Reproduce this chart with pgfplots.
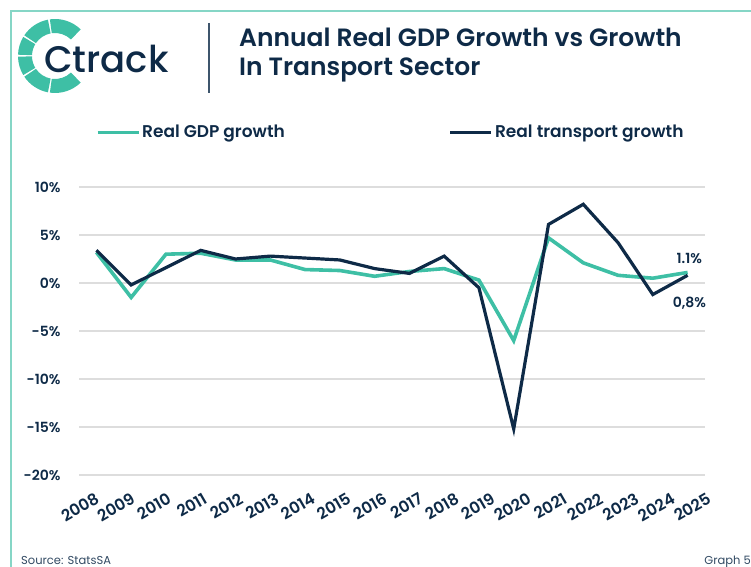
\documentclass[border=0pt]{standalone}
\usepackage{pgfplots}
\pgfplotsset{compat=1.18}
\usepackage{fontspec}
\setmainfont{Poppins}
\IfFontExistsTF{Poppins SemiBold}{\newfontfamily\psemi{Poppins SemiBold}}{\newcommand\psemi{\bfseries}}
\IfFontExistsTF{Poppins Medium}{\newfontfamily\pmed{Poppins Medium}}{\newcommand\pmed{}}

\definecolor{tealc}{HTML}{3EBFA5}
\definecolor{navy}{HTML}{0E2A47}
\definecolor{gridc}{HTML}{DDDDDD}
\definecolor{framec}{HTML}{86D6C6}

% year, real GDP growth, real transport growth (%)
\pgfplotstableread{
year gdp transport
2008  3.2   3.4
2009 -1.5  -0.2
2010  3.0   1.6
2011  3.1   3.4
2012  2.4   2.5
2013  2.4   2.8
2014  1.4   2.6
2015  1.3   2.4
2016  0.7   1.5
2017  1.2   1.0
2018  1.5   2.8
2019  0.3  -0.5
2020 -6.0 -15.2
2021  4.7   6.1
2022  2.1   8.2
2023  0.8   4.2
2024  0.5  -1.2
2025  1.1   0.8
}\growth

\begin{document}
\begin{tikzpicture}
\path[use as bounding box] (0,0) rectangle (751bp,567bp);
% frame
\draw[framec, line width=1.6bp] (11bp,0bp) -- (11bp,556bp) -- (751bp,556bp);

% logo
\foreach \a/\b in {46/98,101/146,149/178,181/211,214/259,262/314}{
  \fill[tealc] ([shift={(\a:37bp)}]55bp,511bp) arc[start angle=\a,end angle=\b,radius=37bp]
    -- ([shift={(\b:23bp)}]55bp,511bp) arc[start angle=\b,end angle=\a,radius=23bp] -- cycle;
}
\node[anchor=base west, inner sep=0pt, text=navy, font=\pmed\fontsize{37bp}{37bp}\selectfont] at (44bp,494bp) {Ctrack};
\draw[navy!80, line width=1.1bp] (209bp,544bp) -- (209bp,474bp);

% title
\node[anchor=base west, inner sep=0pt, text=navy, font=\psemi\fontsize{25bp}{29bp}\selectfont] at (239bp,520bp) {Annual Real GDP Growth vs Growth};
\node[anchor=base west, inner sep=0pt, text=navy, font=\psemi\fontsize{25bp}{29bp}\selectfont] at (239bp,491bp) {In Transport Sector};

% footer
\node[anchor=base west, inner sep=0pt, text=navy!85, font=\fontsize{11.5bp}{12bp}\selectfont] at (21bp,3bp) {Source: StatsSA};
\node[anchor=base east, inner sep=0pt, text=navy!85, font=\fontsize{11.5bp}{12bp}\selectfont] at (751bp,3bp) {Graph 5};

\begin{axis}[
  at={(79bp,92bp)}, anchor=south west,
  scale only axis, width=626bp, height=288bp,
  xmin=2007.5, xmax=2025.5,
  ymin=-20, ymax=10,
  axis line style={draw=none},
  major tick length=0pt,
  % year labels are spread a little wider than the data points in the original
  xtick={2007.90,2008.93,2009.97,2011.00,2012.04,2013.07,2014.11,2015.14,2016.18,2017.21,2018.25,2019.28,2020.32,2021.35,2022.39,2023.42,2024.46,2025.49},
  xticklabels={2008,2009,2010,2011,2012,2013,2014,2015,2016,2017,2018,2019,2020,2021,2022,2023,2024,2025},
  ytick={-20,-15,-10,-5,0,5,10},
  yticklabels={-20\%,-15\%,-10\%,-5\%,0\%,5\%,10\%},
  ymajorgrids=true,
  grid style={gridc, line width=1.3bp},
  ticklabel style={text=navy},
  yticklabel style={anchor=east, xshift=-15bp, font=\psemi\fontsize{14bp}{14bp}\selectfont},
  xticklabel style={rotate=30, anchor=north east, xshift=-3.8bp, yshift=-12bp, font=\psemi\fontsize{16bp}{16bp}\selectfont},
  legend columns=2,
  legend style={at={(rel axis cs:0.022,1.19)}, anchor=west, draw=none, fill=none,
    font=\psemi\fontsize{17bp}{17bp}\selectfont, text=navy,
    /tikz/every even column/.append style={column sep=162bp}},
  legend image code/.code={\draw[#1, line width=3.2bp] (0bp,0bp) -- (41bp,0bp);},
  clip=false,
]
\addplot[tealc, line width=3.6bp, line join=miter] table[x=year, y=gdp] {\growth};
\addlegendentry{Real GDP growth}
\addplot[navy, line width=3.2bp, line join=miter] table[x=year, y=transport] {\growth};
\addlegendentry{Real transport growth}
\node[text=navy, font=\psemi\fontsize{14bp}{14bp}\selectfont] at (axis cs:2025.05,2.6) {1.1\%};
\node[text=navy, font=\psemi\fontsize{14bp}{14bp}\selectfont] at (axis cs:2025.05,-2.1) {0,8\%};
\end{axis}
\end{tikzpicture}
\end{document}
